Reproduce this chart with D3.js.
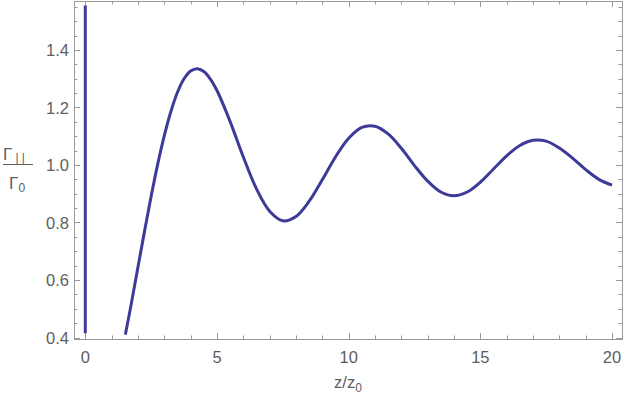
<!DOCTYPE html>
<html>
<head>
<meta charset="utf-8">
<script src="https://cdn.jsdelivr.net/npm/d3@7"></script>
<style>
  body { margin: 0; background: #fff; }
  text { font-family: "Liberation Sans", Arial, sans-serif; }
</style>
</head>
<body>
<svg id="chart" width="625" height="404"></svg>
<script>
// values
var zVals = [1.52, 1.75, 2, 2.25, 2.5, 2.75, 3, 3.25, 3.5, 3.75, 4, 4.25, 4.5, 4.75, 5, 5.5, 6, 6.5, 7, 7.5, 8, 8.5, 9, 9.5, 10,
             10.5, 11, 11.5, 12, 12.5, 13, 13.5, 14, 14.5, 15, 15.5, 16, 16.5, 17, 17.5, 18, 18.5, 19, 19.5, 20];
var gammaVals = [0.41, 0.519, 0.645, 0.770, 0.891, 1.003, 1.102, 1.186, 1.253, 1.300, 1.327, 1.335, 1.325, 1.299, 1.259, 1.151, 1.028,
                 0.917, 0.839, 0.806, 0.821, 0.874, 0.949, 1.028, 1.093, 1.131, 1.135, 1.108, 1.058, 0.998, 0.944,
                 0.906, 0.893, 0.906, 0.940, 0.986, 1.032, 1.068, 1.086, 1.083, 1.059, 1.024, 0.984, 0.950, 0.930];
// the vertical stroke at z = 0
var spikeZ = [0, 0];
var spikeVals = [0.415, 1.555];

var xTicks = [0, 5, 10, 15, 20];
var yTicks = [0.4, 0.6, 0.8, 1.0, 1.2, 1.4];

// note: "top" is taken by window.top, so use other names
var fL = 74, fR = 622, fT = 1, fB = 339;
var frameCol = "#9a9a9a", textCol = "#5e5e5e", lineCol = "#3d3b97";

var svg = d3.select("#chart");

var x = d3.scaleLinear().domain([0, 20]).range([85.3, 612]);
var y = d3.scaleLinear().domain([0.4, 1.4]).range([337.5, 50]);

// frame
svg.append("rect")
    .attr("x", fL + 0.5).attr("y", fT + 0.5)
    .attr("width", fR - fL).attr("height", fB - fT)
    .attr("fill", "none").attr("stroke", frameCol).attr("stroke-width", 1);

var xMinor = d3.range(0, 21, 1).filter(d => d % 5 != 0);
var yMinor = d3.range(0.4, 1.56, 0.05).filter(d => Math.abs(Math.round(d * 5) - d * 5) > 0.01);

var ticks = svg.append("g").attr("stroke", frameCol).attr("stroke-width", 1);
function vTicks(vals, len) {
    vals.forEach(v => {
        var px = Math.round(x(v)) + 0.5;
        ticks.append("line").attr("x1", px).attr("x2", px).attr("y1", fB).attr("y2", fB - len);
        ticks.append("line").attr("x1", px).attr("x2", px).attr("y1", fT).attr("y2", fT + len);
    });
}
function hTicks(vals, len) {
    vals.forEach(v => {
        var py = Math.round(y(v)) + 0.5;
        ticks.append("line").attr("y1", py).attr("y2", py).attr("x1", fL).attr("x2", fL + len);
        ticks.append("line").attr("y1", py).attr("y2", py).attr("x1", fR).attr("x2", fR - len);
    });
}
vTicks(xTicks, 6);
vTicks(xMinor, 3.5);
hTicks(yTicks, 6);
hTicks(yMinor, 3.5);

// tick labels
svg.append("g").selectAll("text").data(xTicks).join("text")
    .attr("x", d => x(d)).attr("y", 363)
    .attr("text-anchor", "middle")
    .attr("font-size", 16.5).attr("fill", textCol)
    .text(d => d);
svg.append("g").selectAll("text").data(yTicks).join("text")
    .attr("x", 69).attr("y", d => y(d) + 6)
    .attr("text-anchor", "end")
    .attr("font-size", 16.5).attr("fill", textCol)
    .text(d => d3.format(".1f")(d));

// axis labels
var xl = svg.append("text").attr("x", 348).attr("y", 388)
    .attr("text-anchor", "middle").attr("font-size", 16.5).attr("fill", textCol);
xl.append("tspan").text("z/z");
xl.append("tspan").attr("font-size", 12).attr("dy", 4).text("0");

var yl = svg.append("g").attr("fill", textCol);
var num = yl.append("text").attr("x", 3).attr("y", 159.5).attr("font-size", 17);
num.append("tspan").text("Γ");
num.append("tspan").attr("font-size", 12).attr("dy", 2).attr("dx", 3).text("| |");
yl.append("line").attr("x1", 3).attr("x2", 33).attr("y1", 164.5).attr("y2", 164.5)
    .attr("stroke", textCol).attr("stroke-width", 1);
var den = yl.append("text").attr("x", 9).attr("y", 189).attr("font-size", 17);
den.append("tspan").text("Γ");
den.append("tspan").attr("font-size", 12).attr("dy", 3).text("0");

// curves
svg.append("clipPath").attr("id", "clip")
    .append("rect").attr("x", fL).attr("y", fT).attr("width", fR - fL).attr("height", fB - fT);

var line = d3.line().x(d => x(d[0])).y(d => y(d[1])).curve(d3.curveCatmullRom.alpha(0.5));
var plot = svg.append("g").attr("clip-path", "url(#clip)");

plot.append("path")
    .datum(d3.zip(zVals, gammaVals))
    .attr("d", line)
    .attr("fill", "none").attr("stroke", lineCol).attr("stroke-width", 3);
plot.append("path")
    .datum(d3.zip(spikeZ, spikeVals))
    .attr("d", d3.line().x(d => x(d[0])).y(d => y(d[1])))
    .attr("fill", "none").attr("stroke", lineCol).attr("stroke-width", 3);
</script>
</body>
</html>
